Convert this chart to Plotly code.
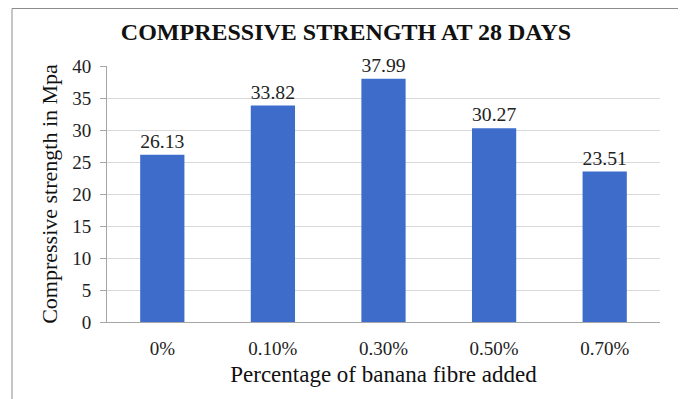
import plotly.graph_objects as go

categories = ["0%", "0.10%", "0.30%", "0.50%", "0.70%"]
strength = [26.13, 33.82, 37.99, 30.27, 23.51]
y_ticks = [0, 5, 10, 15, 20, 25, 30, 35, 40]

# page has an 8px body margin, so the figure is drawn 8px in from the top-left
OFF = 8
W, H = 678, 391
L, T = 107 - OFF, 66 - OFF
R = W - (660 - OFF)
B = H - (322 - OFF)
pw, ph = W - L - R, H - T - B

def px_x(x):
    return (x - OFF - L) / pw

def px_y(y):
    return (H - B - (y - OFF)) / ph

FONT = "Liberation Serif"

fig = go.Figure(go.Bar(
    x=categories, y=strength,
    text=[f"{v:.2f}" for v in strength],
    textposition="outside",
    textfont=dict(family=FONT, size=20, color="#222222"),
    marker=dict(color="#3D6CCA", line=dict(width=0)),
    cliponaxis=False,
))

fig.update_layout(
    width=W, height=H,
    margin=dict(l=L, r=R, t=T, b=B),
    paper_bgcolor="white", plot_bgcolor="white",
    bargap=0.6,
    showlegend=False,
    title=dict(text="<b>COMPRESSIVE STRENGTH AT 28 DAYS</b>",
               x=(346 - OFF) / W, xref="container", xanchor="center",
               y=1 - (32 - OFF) / H, yref="container", yanchor="middle",
               font=dict(family=FONT, size=24, color="#111111")),
    font=dict(family=FONT, color="#222222"),
    xaxis=dict(
        showgrid=False, showline=True, linecolor="#A6A6A6", linewidth=1,
        ticks="", tickfont=dict(family=FONT, size=19, color="#222222"),
        ticklabelstandoff=9,
        title=dict(text="Percentage of banana fibre added",
                   font=dict(family=FONT, size=23, color="#111111"), standoff=8),
    ),
    yaxis=dict(
        range=[0, 40], tickvals=y_ticks,
        showgrid=True, gridcolor="#D9D9D9", gridwidth=1,
        showline=True, linecolor="#A6A6A6", linewidth=1,
        ticks="outside", ticklen=6, tickcolor="#A6A6A6",
        tickfont=dict(family=FONT, size=19, color="#222222"),
        ticklabelstandoff=5,
        zeroline=False,
        title=dict(text="Compressive strength in Mpa",
                   font=dict(family=FONT, size=22, color="#111111"), standoff=8),
    ),
    shapes=[dict(type="rect", xref="paper", yref="paper",
                 x0=px_x(12), x1=px_x(680), y0=px_y(420), y1=px_y(8.5),
                 line=dict(color="#8C8C8C", width=1), fillcolor="rgba(0,0,0,0)",
                 layer="below")],
)

fig.write_html("out.html")
